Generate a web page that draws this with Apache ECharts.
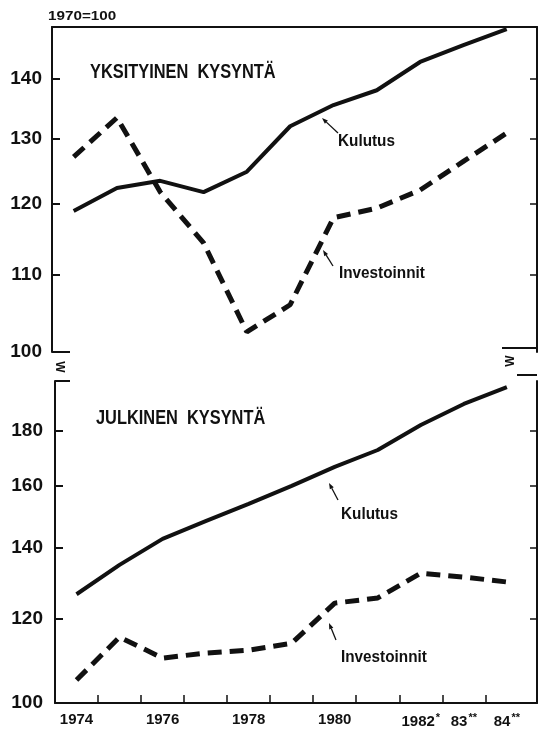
<!DOCTYPE html>
<html>
<head>
<meta charset="utf-8">
<script src="https://cdn.jsdelivr.net/npm/echarts@6/dist/echarts.min.js"></script>
<style>
html,body{margin:0;padding:0;background:#fff}
#chart{width:538px;height:732px}
</style>
</head>
<body>
<div id="chart"></div>
<script>
// vuodet ja indeksit (1970=100)
var years = [1974, 1975, 1976, 1977, 1978, 1979, 1980, 1981, 1982, 1983, 1984];
var yksKulutus = [119.0, 122.4, 123.5, 121.8, 124.9, 132.1, 135.6, 138.1, 143.0, 146.0, 148.9];
var yksInvest = [127.2, 133.5, 121.8, 114.4, 102.5, 106.0, 118.0, 119.4, 122.1, 126.5, 131.0];
var julKulutus = [126.5, 134.8, 142.6, 148.2, 153.8, 159.9, 166.6, 172.8, 182.4, 190.9, 198.0];
var julInvest = [105.1, 115.3, 110.2, 111.4, 112.1, 113.8, 124.1, 125.5, 132.4, 131.3, 129.9];
var topTicks = [100, 110, 120, 130, 140];
var bottomTicks = [100, 120, 140, 160, 180];
var yearTicks = [1974.5, 1975.5, 1976.5, 1977.5, 1978.5, 1979.5, 1980.5, 1981.5, 1982.5, 1983.5];
var yearLabels = [1974, 1976, 1978, 1980, 1982, 1983, 1984];
var yearText = {1974: '1974', 1976: '1976', 1978: '1978', 1980: '1980',
  1982: '{n|1982}{s|*}', 1983: '{n|83}{s|**}', 1984: '{n|84}{s|**}'};

var FONT = "'Liberation Sans', Arial, sans-serif";
var INK = '#111111';

function pairs(v) {
  return years.map(function (y, i) { return [y, v[i]]; });
}

function arrow(x1, y1, x2, y2) {
  var dx = x2 - x1, dy = y2 - y1, len = Math.sqrt(dx * dx + dy * dy);
  var ux = dx / len, uy = dy / len;
  var bx = x2 - ux * 6, by = y2 - uy * 6;
  return [{
    type: 'line', shape: {x1: x1, y1: y1, x2: bx, y2: by},
    style: {stroke: INK, lineWidth: 1.3}
  }, {
    type: 'polygon',
    shape: {points: [[x2, y2], [bx - uy * 2.2, by + ux * 2.2], [bx + uy * 2.2, by - ux * 2.2]]},
    style: {fill: INK}
  }];
}

// teksti kavennettuna (alkuperäinen on kapeaa lihavointia)
function txt(x, y, s, size, sx) {
  return {
    type: 'text', x: x, y: y, scaleX: sx || 1,
    style: {text: s, fill: INK, font: 'bold ' + size + 'px ' + FONT, align: 'left', verticalAlign: 'middle'}
  };
}

function stub(x1, y1, x2, y2) {
  return {type: 'line', shape: {x1: x1, y1: y1, x2: x2, y2: y2}, style: {stroke: INK, lineWidth: 2}};
}

function breakMark(x, y, rot) {
  return {
    type: 'text', x: x, y: y, rotation: rot,
    style: {text: 'W', fill: INK, font: 'bold 12px ' + FONT, align: 'center', verticalAlign: 'middle'}
  };
}

function yAxisLeft(grid, min, max, ticks, margin) {
  return {
    gridIndex: grid, type: 'log', logBase: 10, min: min, max: max, position: 'left',
    axisLine: {show: true, lineStyle: {color: INK, width: 2}},
    axisTick: {show: true, inside: true, length: 8, customValues: ticks, lineStyle: {color: INK, width: 2}},
    minorTick: {show: false},
    axisLabel: {show: true, customValues: ticks, margin: margin, color: INK, fontSize: 19, fontWeight: 'bold', fontFamily: FONT},
    splitLine: {show: false}
  };
}

function yAxisRight(grid, min, max, ticks) {
  return {
    gridIndex: grid, type: 'log', logBase: 10, min: min, max: max, position: 'right',
    axisLine: {show: true, lineStyle: {color: INK, width: 2}},
    axisTick: {show: true, inside: true, length: 7, customValues: ticks, lineStyle: {color: INK, width: 1.5}},
    minorTick: {show: false},
    axisLabel: {show: false},
    splitLine: {show: false}
  };
}

var hiddenX = {
  type: 'value', min: 1973.5, max: 1984.7,
  axisLine: {show: false}, axisTick: {show: false}, axisLabel: {show: false}, splitLine: {show: false}
};

var chart = echarts.init(document.getElementById('chart'));

var option = {
  animation: false,
  backgroundColor: '#ffffff',
  grid: [
    {left: 52, top: 27, width: 485, height: 325},
    {left: 55, top: 381, width: 482, height: 322}
  ],
  xAxis: [
    Object.assign({gridIndex: 0, position: 'bottom'}, hiddenX),
    Object.assign({}, hiddenX, {gridIndex: 0, position: 'top', axisLine: {show: true, lineStyle: {color: INK, width: 2}}}),
    {
      gridIndex: 1, type: 'value', min: 1973.5, max: 1984.7, position: 'bottom',
      axisLine: {show: true, lineStyle: {color: INK, width: 2}},
      axisTick: {show: true, inside: true, length: 8, customValues: yearTicks, lineStyle: {color: INK, width: 1.5}},
      axisLabel: {
        show: true, customValues: yearLabels, margin: 9,
        formatter: function (v) { return yearText[v] || ''; },
        color: INK, fontSize: 15, fontWeight: 'bold', fontFamily: FONT,
        rich: {
          n: {fontSize: 15, fontWeight: 'bold', fontFamily: FONT, color: INK},
          s: {fontSize: 11, fontWeight: 'bold', fontFamily: FONT, color: INK, verticalAlign: 'top', padding: [0, 0, 8, 1]}
        }
      },
      splitLine: {show: false}
    }
  ],
  yAxis: [
    yAxisLeft(0, 100, 149.3, topTicks, 10),
    yAxisRight(0, 100, 149.3, [110, 120, 130, 140]),
    yAxisLeft(1, 100, 200.6, bottomTicks, 12),
    yAxisRight(1, 100, 200.6, [120, 140, 160, 180])
  ],
  series: [
    {name: 'Kulutus', type: 'line', xAxisIndex: 0, yAxisIndex: 0, data: pairs(yksKulutus),
      symbol: 'none', lineStyle: {color: INK, width: 4}},
    {name: 'Investoinnit', type: 'line', xAxisIndex: 0, yAxisIndex: 0, data: pairs(yksInvest),
      symbol: 'none', lineStyle: {color: INK, width: 5, type: [14, 8]}},
    {name: 'Kulutus', type: 'line', xAxisIndex: 2, yAxisIndex: 2, data: pairs(julKulutus),
      symbol: 'none', lineStyle: {color: INK, width: 4}},
    {name: 'Investoinnit', type: 'line', xAxisIndex: 2, yAxisIndex: 2, data: pairs(julInvest),
      symbol: 'none', lineStyle: {color: INK, width: 5, type: [14, 8]}}
  ],
  graphic: [
    txt(48, 17, '1970=100', 12.5, 1.22),
    txt(90, 73, 'YKSITYINEN  KYSYNTÄ', 19.5, 0.84),
    txt(96, 419, 'JULKINEN  KYSYNTÄ', 19.5, 0.84),
    txt(338, 141, 'Kulutus', 17, 0.9),
    txt(339, 273, 'Investoinnit', 17, 0.9),
    txt(341, 514, 'Kulutus', 17, 0.9),
    txt(341, 657, 'Investoinnit', 17, 0.9),
    stub(52, 352, 70, 352),
    stub(502, 348, 537, 348),
    stub(55, 381, 70, 381),
    stub(517, 375, 537, 375),
    breakMark(59, 367, -Math.PI / 2),
    breakMark(511, 361, Math.PI / 2)
  ].concat(arrow(338, 133, 322, 118), arrow(333, 266, 323, 250),
    arrow(338, 500, 329, 483), arrow(336, 640, 329, 623))
};

chart.setOption(option);
window.addEventListener('resize', function () {
  chart.resize();
});
</script>
</body>
</html>
